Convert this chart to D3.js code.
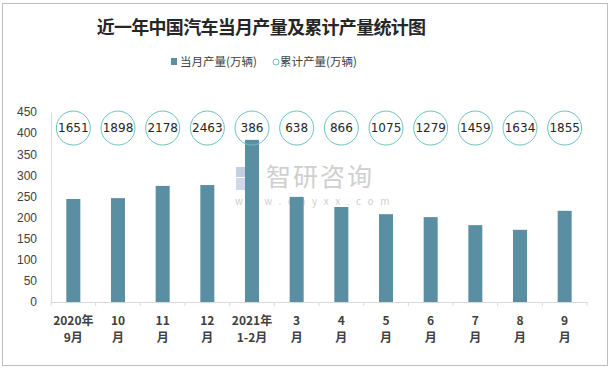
<!DOCTYPE html>
<html>
<head>
<meta charset="utf-8">
<script src="https://cdn.jsdelivr.net/npm/d3@7"></script>
<style>
  body { margin: 0; background: #fff; }
  text { font-family: "Noto Sans CJK SC", "Noto Sans", sans-serif; }
</style>
</head>
<body>
<svg id="chart" width="611" height="371"></svg>
<script>
let months = [["2020年", "9月"], ["10", "月"], ["11", "月"], ["12", "月"], ["2021年", "1-2月"],
  ["3", "月"], ["4", "月"], ["5", "月"], ["6", "月"], ["7", "月"], ["8", "月"], ["9", "月"]]
let monthly = [244, 246, 275, 277, 384, 249, 225, 208, 201, 182, 171, 216]
let cumulative = [1651, 1898, 2178, 2463, 386, 638, 866, 1075, 1279, 1459, 1634, 1855]
let markerLevel = 412 // circles sit on a fixed level of the value axis
let yTicks = [0, 50, 100, 150, 200, 250, 300, 350, 400, 450]

let width = 611;
let height = 371;
let margin = { top: 112, right: 24, bottom: 69, left: 51 };
let svg = d3.select("#chart")

svg.append("rect")
    .attr("x", 2.5).attr("y", 3.5)
    .attr("width", 605).attr("height", 362)
    .style("fill", "#fff")
    .style("stroke", "#bfbfbf")

let x = d3.scaleBand()
    .domain(d3.range(months.length))
    .range([margin.left, width - margin.right])

let y = d3.scaleLinear()
    .domain([0, 450])
    .range([height - margin.bottom, margin.top])

// watermark
let wm = svg.append("g").attr("id", "watermark")
wm.append("rect").attr("x", 236).attr("y", 167).attr("width", 10).attr("height", 10).style("fill", "#c3cee3")
wm.append("rect").attr("x", 247).attr("y", 167).attr("width", 11).attr("height", 14).style("fill", "#c3cee3")
wm.append("rect").attr("x", 236).attr("y", 178).attr("width", 10).attr("height", 12).style("fill", "#d0d9ea")
wm.append("rect").attr("x", 247).attr("y", 182).attr("width", 11).attr("height", 8).style("fill", "#a9bbd9")
wm.append("text")
    .attr("x", 266).attr("y", 186)
    .style("font-size", "25px")
    .style("fill", "#cfcfcf")
    .style("letter-spacing", "2px")
    .text("智研咨询")
wm.append("text")
    .attr("x", 235).attr("y", 205)
    .style("font-size", "10px")
    .style("fill", "#cfcfcf")
    .style("letter-spacing", "6.6px")
    .text("www.chyxx.com")

let yAxisSettings = d3.axisLeft(y)
    .tickValues(yTicks)
    .tickSize(0)
    .tickPadding(14)

let yAxisTicks = svg.append("g")
    .attr("class", "y axis")
    .attr("transform", `translate(${margin.left},0)`)
    .call(yAxisSettings)
yAxisTicks.select(".domain").style("stroke", "#d9d9d9")
yAxisTicks.selectAll("text")
    .style("font-family", "'Liberation Sans', Arial, sans-serif")
    .style("font-size", "12px")
    .style("fill", "#404040")

let xAxisSettings = d3.axisBottom(x)
    .tickSize(0)
    .tickFormat("")

let xAxisTicks = svg.append("g")
    .attr("class", "x axis")
    .attr("transform", `translate(0,${height - margin.bottom})`)
    .call(xAxisSettings)
xAxisTicks.select(".domain").style("stroke", "#d9d9d9")

// tick marks between categories
svg.append("g")
    .selectAll("line")
    .data(d3.range(months.length + 1))
    .join("line")
    .attr("x1", i => i < months.length ? x(i) : x(i - 1) + x.bandwidth())
    .attr("x2", i => i < months.length ? x(i) : x(i - 1) + x.bandwidth())
    .attr("y1", height - margin.bottom)
    .attr("y2", height - margin.bottom + 4)
    .style("stroke", "#d9d9d9")

let labels = svg.append("g")
    .selectAll("text")
    .data(months)
    .join("text")
    .attr("text-anchor", "middle")
    .attr("x", (d, i) => x(i) + x.bandwidth() / 2)
    .attr("y", height - margin.bottom + 23)
    .style("font-size", "12px")
    .style("font-weight", "bold")
    .style("fill", "#404040")
labels.append("tspan").text(d => d[0])
labels.append("tspan")
    .attr("x", (d, i) => x(i) + x.bandwidth() / 2)
    .attr("dy", 17)
    .text(d => d[1])

let barWidth = 14
svg.append("g")
    .attr("id", "bars")
    .selectAll("rect")
    .data(monthly)
    .join("rect")
    .attr("x", (d, i) => x(i) + x.bandwidth() / 2 - barWidth / 2)
    .attr("y", d => y(d))
    .attr("width", barWidth)
    .attr("height", d => y(0) - y(d))
    .style("fill", "#5a8fa3")

let markers = svg.append("g")
    .attr("id", "markers")
    .selectAll("g")
    .data(cumulative)
    .join("g")
    .attr("transform", (d, i) => `translate(${x(i) + x.bandwidth() / 2},${y(markerLevel)})`)
markers.append("circle")
    .attr("r", 17)
    .style("fill", "none")
    .style("stroke", "#6cc3bb")
    .style("stroke-width", 1)
markers.append("text")
    .attr("text-anchor", "middle")
    .attr("dy", "0.36em")
    .style("font-family", "'DejaVu Sans', sans-serif")
    .style("font-size", "12px")
    .style("fill", "#262626")
    .text(d => d)

let title = svg.append("text")
    .attr("text-anchor", "middle")
    .attr("x", 261)
    .attr("y", 34)
    .style("fill", "#262626")
    .style("font-size", "18px")
    .style("letter-spacing", "-0.7px")
    .style("font-weight", "bold")
    .text("近一年中国汽车当月产量及累计产量统计图")

let legend = svg.append("g").attr("id", "legend")
legend.append("rect")
    .attr("x", 171).attr("y", 58)
    .attr("width", 6).attr("height", 7)
    .style("fill", "#5a8fa3")
legend.append("text")
    .attr("x", 180).attr("y", 66)
    .style("font-size", "11.5px")
    .style("fill", "#404040")
    .text("当月产量(万辆)")
legend.append("circle")
    .attr("cx", 276).attr("cy", 62)
    .attr("r", 3)
    .style("fill", "none")
    .style("stroke", "#6cc3bb")
legend.append("text")
    .attr("x", 280).attr("y", 66)
    .style("font-size", "11.5px")
    .style("fill", "#404040")
    .text("累计产量(万辆)")
</script>
</body>
</html>
